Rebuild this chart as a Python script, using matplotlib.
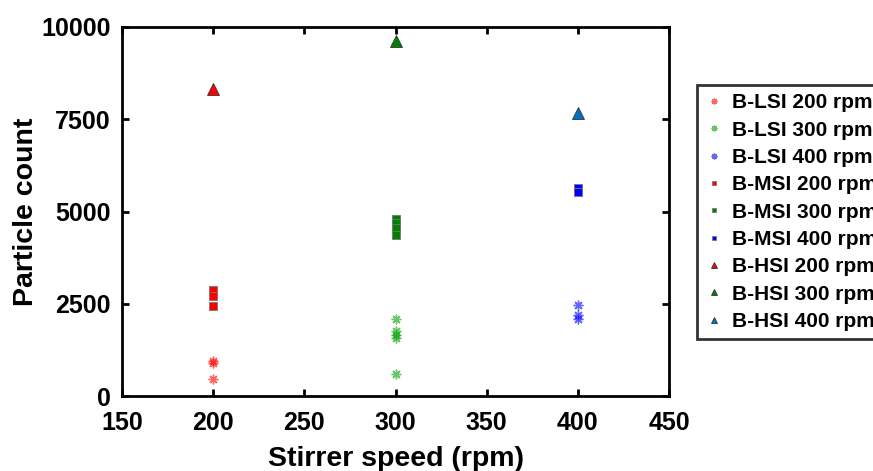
import numpy as np
import matplotlib.pyplot as plt

plt.rcParams['font.family'] = ['Liberation Sans', 'DejaVu Sans']
plt.rcParams['font.weight'] = 'bold'

# values
lsi_200 = [900, 950, 450]
lsi_300 = [2080, 1750, 1650, 1580, 600]
lsi_400 = [2470, 2200, 2100]
msi_200 = [2870, 2700, 2450]
msi_300 = [4800, 4700, 4560, 4350]
msi_400 = [5640, 5540]
hsi_200 = [8330]
hsi_300 = [9620]
hsi_400 = [7670]

series = [
    ('B-LSI 200 rpm', 200, lsi_200, '*', '#ff0000'),
    ('B-LSI 300 rpm', 300, lsi_300, '*', '#00a000'),
    ('B-LSI 400 rpm', 400, lsi_400, '*', '#0000ff'),
    ('B-MSI 200 rpm', 200, msi_200, 's', '#ff0000'),
    ('B-MSI 300 rpm', 300, msi_300, 's', '#008000'),
    ('B-MSI 400 rpm', 400, msi_400, 's', '#0000ff'),
    ('B-HSI 200 rpm', 200, hsi_200, '^', '#ff0000'),
    ('B-HSI 300 rpm', 300, hsi_300, '^', '#008000'),
    ('B-HSI 400 rpm', 400, hsi_400, '^', '#0072bd'),
]

fig = plt.figure(figsize=(8.73, 4.71), dpi=100)
ax = fig.add_axes([122 / 873, 1 - 396 / 471, 547 / 873, 369 / 471])

for label, speed, vals, mk, col in series:
    x = np.full(len(vals), speed)
    if mk == '*':
        ax.plot(x, vals, linestyle='none', marker=(8, 2, 0), markersize=7,
                color=col, alpha=0.6, markeredgewidth=1.0, label=label)
    elif mk == 's':
        ax.plot(x, vals, linestyle='none', marker=mk, markersize=5.5, color=col,
                markeredgecolor='#777777', markeredgewidth=0.6, label=label)
    else:
        ax.plot(x, vals, linestyle='none', marker=mk, markersize=8, color=col,
                markeredgecolor='#333333', markeredgewidth=0.6, label=label)

ax.set_xlim(150, 450)
ax.set_ylim(0, 10000)
ax.set_xticks(np.arange(150, 451, 50))
ax.set_yticks([0, 2500, 5000, 7500, 10000])
ax.tick_params(direction='in', top=True, right=True, width=2, length=5,
               labelsize=18)
ax.tick_params(axis='x', pad=11)
ax.tick_params(axis='y', pad=8)
for lab in ax.get_xticklabels() + ax.get_yticklabels():
    lab.set_fontweight('bold')
for sp in ax.spines.values():
    sp.set_linewidth(2)

ax.set_xlabel('Stirrer speed (rpm)', fontsize=20.5, fontweight='bold', labelpad=8)
ax.set_ylabel('Particle count', fontsize=20.5, fontweight='bold', labelpad=2)

leg = ax.legend(loc='upper left', bbox_to_anchor=(697 / 873, 1 - 85 / 471),
                bbox_transform=fig.transFigure, fontsize=15, markerscale=0.6,
                handlelength=0.8, handletextpad=0.5, labelspacing=0.4,
                borderpad=0.4, borderaxespad=0, fancybox=False, framealpha=1)
leg.get_frame().set_edgecolor('#333333')
leg.get_frame().set_linewidth(2)
for t in leg.get_texts():
    t.set_fontweight('bold')

fig.savefig('out.png', dpi=100)
